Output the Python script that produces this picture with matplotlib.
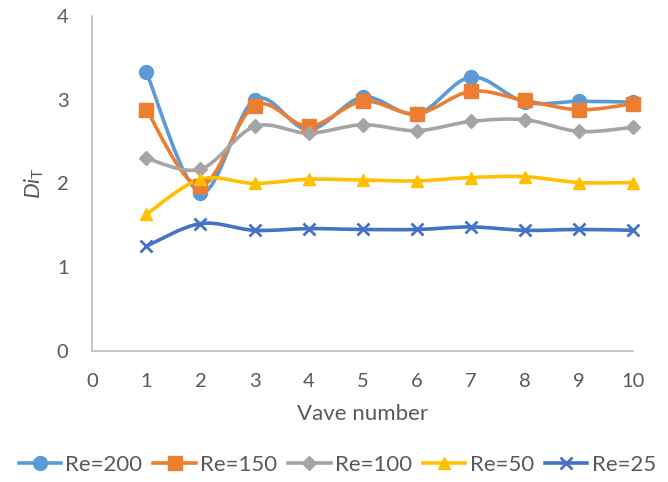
import numpy as np
import matplotlib
matplotlib.use('Agg')
import matplotlib.pyplot as plt
from matplotlib.path import Path
from matplotlib.patches import PathPatch
from matplotlib.lines import Line2D

plt.rcParams['font.family'] = ['Lato', 'DejaVu Sans']
plt.rcParams['mathtext.fontset'] = 'custom'
plt.rcParams['mathtext.it'] = 'Lato:italic'
plt.rcParams['mathtext.rm'] = 'Lato'

wave = [1, 2, 3, 4, 5, 6, 7, 8, 9, 10]
re200 = [3.33, 1.89, 3.00, 2.64, 3.03, 2.83, 3.27, 2.97, 2.98, 2.97]
re150 = [2.88, 1.97, 2.93, 2.68, 2.98, 2.83, 3.10, 2.99, 2.88, 2.95]
re100 = [2.30, 2.17, 2.68, 2.60, 2.70, 2.63, 2.74, 2.76, 2.62, 2.67]
re50  = [1.63, 2.05, 2.00, 2.05, 2.04, 2.03, 2.07, 2.08, 2.01, 2.01]
re25  = [1.25, 1.52, 1.44, 1.46, 1.45, 1.45, 1.48, 1.44, 1.45, 1.44]

labels  = ['Re=200', 'Re=150', 'Re=100', 'Re=50', 'Re=25']
series  = [re200, re150, re100, re50, re25]
colors  = ['#5B9BD5', '#ED7D31', '#A5A5A5', '#FFC000', '#4472C4']
markers = ['o', 's', 'D', '^', 'x']
msizes  = [10, 9.5, 7.5, 9, 9]

def smooth_path(x, y):
    # Excel-like smoothed line: cubic bezier through points
    x = np.asarray(x, float); y = np.asarray(y, float)
    verts = [(x[0], y[0])]
    codes = [Path.MOVETO]
    n = len(x)
    for i in range(n - 1):
        p0 = np.array([x[max(i - 1, 0)], y[max(i - 1, 0)]])
        p1 = np.array([x[i], y[i]])
        p2 = np.array([x[i + 1], y[i + 1]])
        p3 = np.array([x[min(i + 2, n - 1)], y[min(i + 2, n - 1)]])
        c1 = p1 + (p2 - p0) / 6.0
        c2 = p2 - (p3 - p1) / 6.0
        verts += [tuple(c1), tuple(c2), tuple(p2)]
        codes += [Path.CURVE4] * 3
    return Path(verts, codes)

fig = plt.figure(figsize=(6.68, 4.82), dpi=100)
ax = fig.add_axes([0.138, 0.272, 0.81, 0.695])

for ys, c, m, ms in zip(series, colors, markers, msizes):
    ax.add_patch(PathPatch(smooth_path(wave, ys), facecolor='none', edgecolor=c,
                           lw=2.6, capstyle='round', joinstyle='round'))
    if m == 'x':
        ax.plot(wave, ys, linestyle='none', marker=m, ms=ms, mew=2, color=c, clip_on=False)
    else:
        ax.plot(wave, ys, linestyle='none', marker=m, ms=ms, color=c, mec=c, clip_on=False)

ax.set_xlim(0, 10)
ax.set_ylim(0, 4)
ax.set_xticks(range(0, 11))
ax.set_yticks(range(0, 5))
for s in ['top', 'right']:
    ax.spines[s].set_visible(False)
for s in ['left', 'bottom']:
    ax.spines[s].set_color('#BFBFBF')
    ax.spines[s].set_linewidth(1.2)
ax.tick_params(length=0, labelsize=14.5, colors='#595959')
ax.tick_params(axis='x', pad=16)
ax.tick_params(axis='y', pad=17)
ax.set_xlabel('Vave number', fontsize=16, color='#595959', labelpad=10)
ax.set_ylabel(r'$\mathit{Di}_\mathrm{T}$', fontsize=16, color='#595959', labelpad=8)

handles = [Line2D([0], [0], color=c, lw=2.6, marker=m, ms=ms, mew=2 if m == 'x' else 1)
           for c, m, ms in zip(colors, markers, msizes)]
fig.legend(handles, labels, loc='center', bbox_to_anchor=(0.505, 0.035), ncol=5,
           frameon=False, fontsize=16, handlelength=1.9, handletextpad=0.2,
           columnspacing=0.5, labelcolor='#595959')

fig.savefig('out.png', dpi=100)
